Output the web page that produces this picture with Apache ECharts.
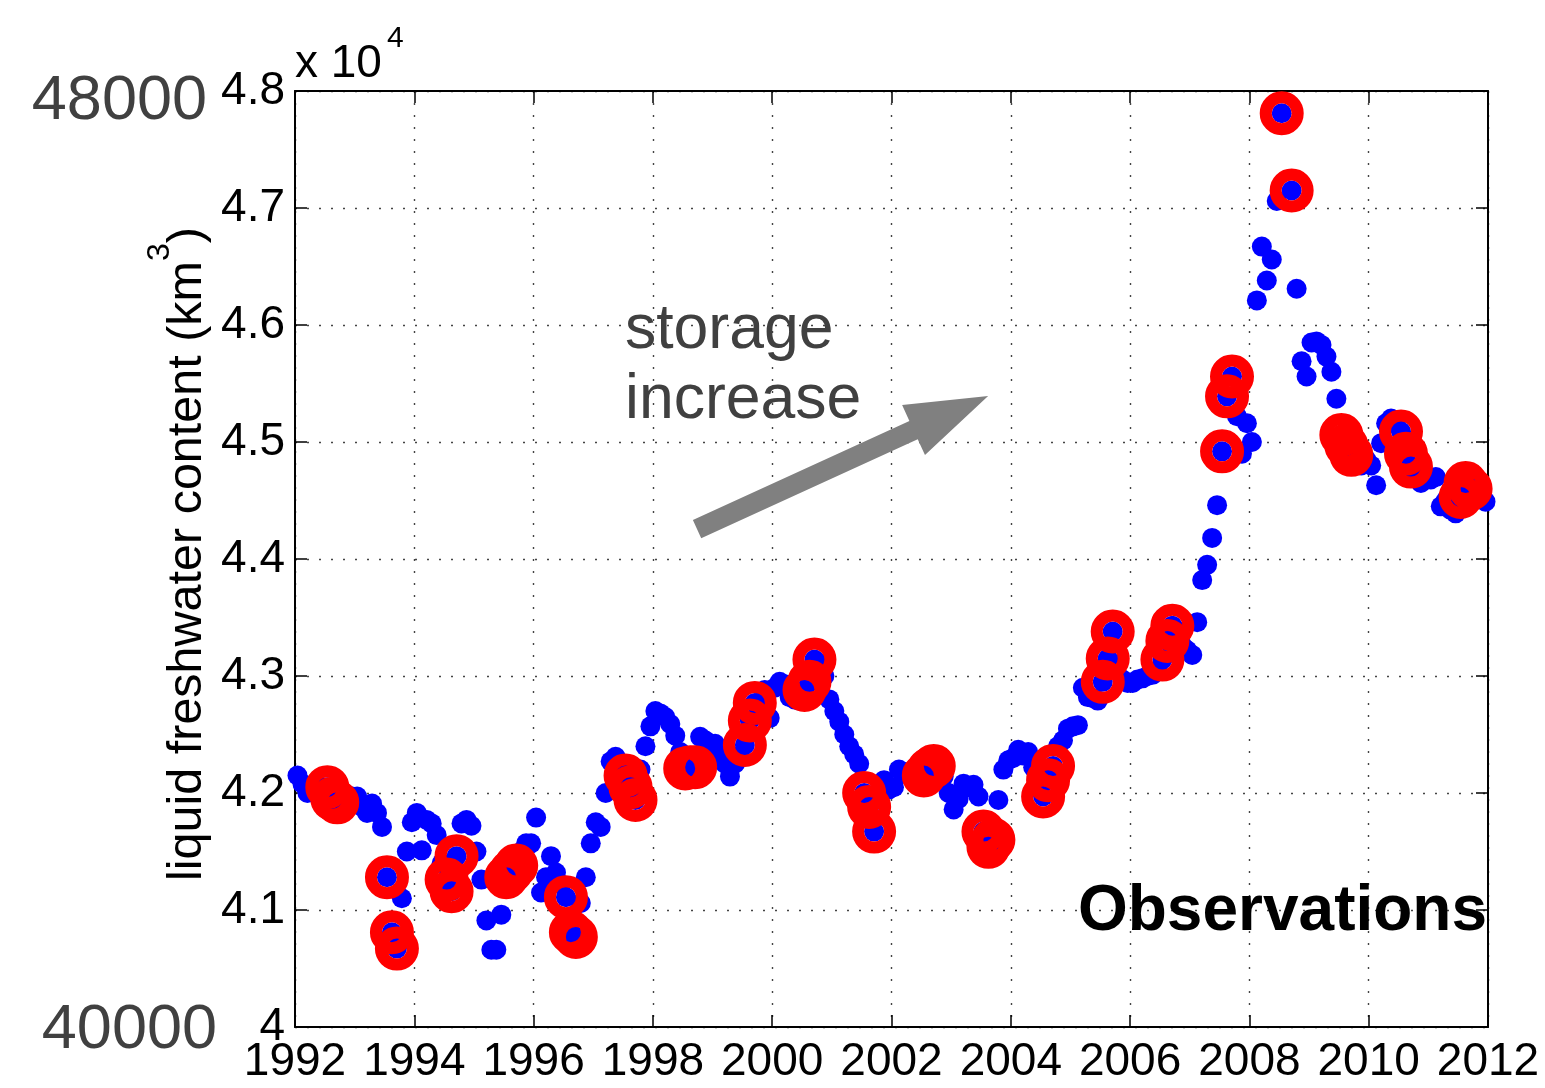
<!DOCTYPE html>
<html>
<head>
<meta charset="utf-8">
<script src="https://cdn.jsdelivr.net/npm/echarts@6/dist/echarts.min.js"></script>
<style>
html,body{margin:0;padding:0;background:#fff}
#chart{width:1545px;height:1088px}
</style>
</head>
<body>
<div id="chart"></div>
<script>
// ---- data (liquid freshwater content, units of 10^4 km^3), monthly Jan..Dec ----
const startYear = 1992;
const y1992 = [4.215, 4.208, 4.200, 4.202, 4.205, 4.205, 4.205, 4.195, 4.192, 4.195, 4.196, 4.197];
const y1993 = [4.197, 4.188, 4.183, 4.191, 4.183, 4.171, 4.128, 4.081, 4.067, 4.110, 4.150, 4.175];
const y1994 = [4.183, 4.151, 4.177, 4.174, 4.164, 4.140, 4.126, 4.116, 4.146, 4.174, 4.177, 4.172];
const y1995 = [4.150, 4.126, 4.091, 4.066, 4.066, 4.096, 4.128, 4.133, 4.138, 4.150, 4.157, 4.157];
const y1996 = [4.179, 4.115, 4.128, 4.146, 4.132, 4.122, 4.111, 4.081, 4.077, 4.106, 4.128, 4.157];
const y1997 = [4.175, 4.171, 4.200, 4.227, 4.231, 4.225, 4.215, 4.205, 4.194, 4.220, 4.240, 4.257];
const y1998 = [4.270, 4.268, 4.265, 4.259, 4.249, 4.235, 4.221, 4.222, 4.222, 4.248, 4.245, 4.242];
const y1999 = [4.242, 4.232, 4.225, 4.214, 4.225, 4.232, 4.241, 4.262, 4.277, 4.275, 4.288, 4.264];
const y2000 = [4.290, 4.295, 4.293, 4.282, 4.280, 4.279, 4.288, 4.295, 4.314, 4.311, 4.300, 4.280];
const y2001 = [4.270, 4.261, 4.250, 4.240, 4.233, 4.225, 4.200, 4.188, 4.167, 4.197, 4.211, 4.203];
const y2002 = [4.205, 4.220, 4.218, 4.215, 4.213, 4.212, 4.215, 4.220, 4.223, 4.215, 4.214, 4.200];
const y2003 = [4.186, 4.195, 4.208, 4.205, 4.207, 4.197, 4.167, 4.154, 4.160, 4.194, 4.220, 4.228];
const y2004 = [4.230, 4.237, 4.232, 4.235, 4.222, 4.210, 4.197, 4.211, 4.223, 4.240, 4.245, 4.255];
const y2005 = [4.257, 4.258, 4.290, 4.282, 4.281, 4.279, 4.295, 4.315, 4.338, 4.310, 4.297, 4.294];
const y2006 = [4.294, 4.297, 4.298, 4.300, 4.301, 4.305, 4.314, 4.330, 4.343, 4.338, 4.326, 4.322];
const y2007 = [4.318, 4.346, 4.382, 4.395, 4.418, 4.446, 4.492, 4.539, 4.556, 4.522, 4.490, 4.516];
const y2008 = [4.500, 4.621, 4.667, 4.638, 4.656, 4.706, 4.781, null, 4.715, 4.631, 4.569, 4.556];
const y2009 = [4.585, 4.586, 4.583, 4.573, 4.560, 4.537, 4.506, 4.497, 4.489, 4.485, 4.480, 4.485];
const y2010 = [4.480, 4.463, 4.499, 4.516, 4.520, 4.515, 4.509, 4.490, 4.479, 4.472, 4.465, 4.468];
const y2011 = [4.468, 4.470, 4.445, 4.450, 4.442, 4.439, 4.453, 4.465, 4.460, 4.458, 4.455, 4.449];
const yearly = [y1992, y1993, y1994, y1995, y1996, y1997, y1998, y1999, y2000, y2001,
                y2002, y2003, y2004, y2005, y2006, y2007, y2008, y2009, y2010, y2011];
// months that are circled (summer observations)
const circledMonths = [7, 8, 9];
// axes
const xRange = [1992, 2012];
const xStep = 2;
const yRange = [4.0, 4.8];
const yStep = 0.1;
// annotations
const arrowTail = [1998.74, 4.4256];
const arrowTip = [2003.62, 4.5393];
const texts = {
  scale: 'x 10', scaleExp: '4',
  top: '48000', bottom: '40000',
  yName: 'liquid freshwater content (km', yNameExp: '3', yNameEnd: ')',
  note1: 'storage', note2: 'increase',
  label: 'Observations'
};

// ---- build series ----
const allPts = [];
const ringPts = [];
yearly.forEach((vals, i) => {
  vals.forEach((v, m) => {
    if (v == null) return;
    const t = startYear + i + (m + 0.5) / 12;
    allPts.push([t, v]);
    if (circledMonths.indexOf(m + 1) >= 0) ringPts.push([t, v]);
  });
});

const FONT = '"Liberation Sans", Arial, Helvetica, sans-serif';
const chart = echarts.init(document.getElementById('chart'), null, {renderer: 'canvas'});

const axisLineStyle = {color: '#000', width: 2};
const tickStyle = {show: true, inside: true, length: 12, lineStyle: {color: '#000', width: 1.5}};
const gridLine = {show: true, lineStyle: {color: '#444', width: 1.4, type: [2, 10]}};

const option = {
  animation: false,
  backgroundColor: '#fff',
  grid: {left: 295, top: 91, right: 57, bottom: 61, containLabel: false},
  xAxis: [
    {type: 'value', min: xRange[0], max: xRange[1], interval: xStep, position: 'bottom',
     axisLine: {show: true, onZero: false, lineStyle: axisLineStyle},
     axisTick: tickStyle,
     axisLabel: {show: true, margin: 12, fontSize: 46, color: '#000', fontFamily: FONT,
                 showMinLabel: true, showMaxLabel: true, formatter: v => String(Math.round(v))},
     splitLine: gridLine},
    {type: 'value', min: xRange[0], max: xRange[1], interval: xStep, position: 'top',
     axisLine: {show: true, onZero: false, lineStyle: axisLineStyle},
     axisTick: tickStyle, axisLabel: {show: false}, splitLine: {show: false}}
  ],
  yAxis: [
    {type: 'value', min: yRange[0], max: yRange[1], interval: yStep, position: 'left',
     axisLine: {show: true, onZero: false, lineStyle: axisLineStyle},
     axisTick: tickStyle,
     axisLabel: {show: true, margin: 10, fontSize: 46, color: '#000', fontFamily: FONT,
                 showMinLabel: true, showMaxLabel: true,
                 formatter: v => String(Math.round(v * 10) / 10)},
     splitLine: gridLine},
    {type: 'value', min: yRange[0], max: yRange[1], interval: yStep, position: 'right',
     axisLine: {show: true, onZero: false, lineStyle: axisLineStyle},
     axisTick: tickStyle, axisLabel: {show: false}, splitLine: {show: false}}
  ],
  series: [
    {type: 'scatter', xAxisIndex: 0, yAxisIndex: 0, data: allPts, symbol: 'circle', symbolSize: 20,
     itemStyle: {color: '#0000ff', opacity: 1}, silent: true, z: 3},
    {type: 'scatter', xAxisIndex: 0, yAxisIndex: 0, data: ringPts, symbol: 'circle', symbolSize: 32,
     itemStyle: {color: 'rgba(0,0,0,0)', borderColor: '#ff0000', borderWidth: 12, opacity: 1},
     silent: true, z: 4}
  ]
};
chart.setOption(option);

// ---- annotations ----
const ctx = document.createElement('canvas').getContext('2d');
function tw(str, size, weight) {
  ctx.font = (weight ? weight + ' ' : '') + size + 'px ' + FONT;
  return ctx.measureText(str).width;
}
const p0 = chart.convertToPixel({gridIndex: 0}, arrowTail);
const p1 = chart.convertToPixel({gridIndex: 0}, arrowTip);
const dx = p1[0] - p0[0], dy = p1[1] - p0[1], L = Math.hypot(dx, dy);
const ux = dx / L, uy = dy / L, nx = -uy, ny = ux;
const shaftW = 20, headW = 55, headL = 82;
const bx = p1[0] - ux * headL, by = p1[1] - uy * headL;
const arrowPts = [
  [p0[0] + nx * shaftW / 2, p0[1] + ny * shaftW / 2],
  [bx + nx * shaftW / 2, by + ny * shaftW / 2],
  [bx + nx * headW / 2, by + ny * headW / 2],
  [p1[0], p1[1]],
  [bx - nx * headW / 2, by - ny * headW / 2],
  [bx - nx * shaftW / 2, by - ny * shaftW / 2],
  [p0[0] - nx * shaftW / 2, p0[1] - ny * shaftW / 2]
];

const tSize = 48.5, supSize = 32;
const wMain = tw(texts.yName, tSize), wSup = tw(texts.yNameExp, supSize), wEnd = tw(texts.yNameEnd, tSize);
const wTot = wMain + wSup + wEnd;

function txt(str, x, y, size, fill, align, extra) {
  return Object.assign({type: 'text', x: x, y: y, silent: true, z: 10,
    style: {text: str, fill: fill, font: size + 'px ' + FONT, align: align, verticalAlign: 'middle'}}, extra || {});
}

chart.setOption({
  graphic: [
    {type: 'polygon', shape: {points: arrowPts}, style: {fill: '#808080'}, silent: true, z: 5},
    txt(texts.note1, 625, 331, 62.5, '#404040', 'left'),
    txt(texts.note2, 625, 401, 62.5, '#404040', 'left'),
    txt(texts.scale, 295, 64, 46, '#000', 'left'),
    txt(texts.scaleExp, 387, 39, 30, '#000', 'left'),
    txt(texts.top, 207, 102, 63, '#404040', 'right'),
    txt(texts.bottom, 217, 1031, 63, '#404040', 'right'),
    {type: 'text', x: 1487, y: 912, silent: true, z: 10,
     style: {text: texts.label, fill: '#000', font: 'bold 64px ' + FONT, align: 'right', verticalAlign: 'middle'}},
    {type: 'group', x: 188, y: 554, rotation: Math.PI / 2, silent: true, z: 10, children: [
      txt(texts.yName, -wTot / 2, 0, tSize, '#000', 'left'),
      txt(texts.yNameExp, -wTot / 2 + wMain, -28, supSize, '#000', 'left'),
      txt(texts.yNameEnd, -wTot / 2 + wMain + wSup, 0, tSize, '#000', 'left')
    ]}
  ]
});
</script>
</body>
</html>
